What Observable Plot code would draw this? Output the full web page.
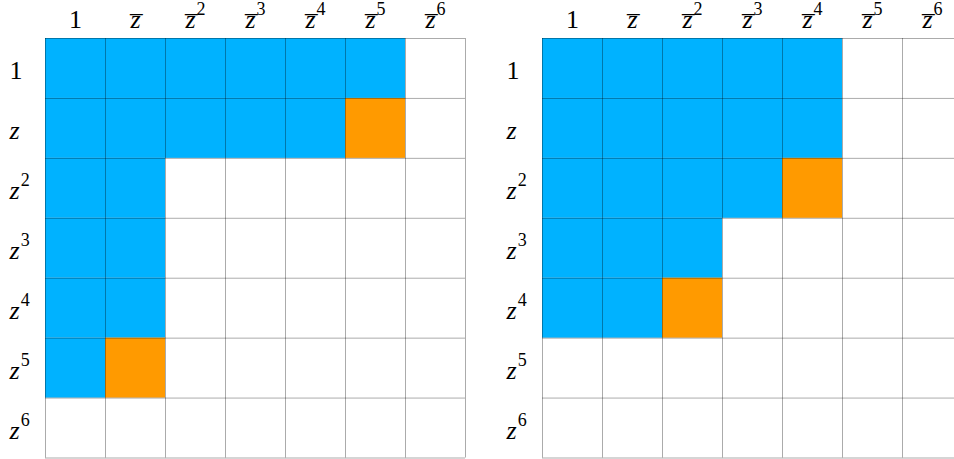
<!DOCTYPE html>
<html>
<head>
<meta charset="utf-8">
<script src="https://cdn.jsdelivr.net/npm/d3@7"></script>
<script src="https://cdn.jsdelivr.net/npm/@observablehq/plot@0.6"></script>
<style>
  html, body { margin: 0; padding: 0; background: #fff; }
  #wrap { width: 954px; height: 459px; overflow: hidden; display: flex; }
  #wrap svg { flex: none; }
</style>
</head>
<body>
<div id="wrap"></div>
<script>
// Column labels (powers of z-bar) and row labels (powers of z)
const colLabels = ["1", "zbar", "zbar^2", "zbar^3", "zbar^4", "zbar^5", "zbar^6"];
const rowLabels = ["1", "z", "z^2", "z^3", "z^4", "z^5", "z^6"];

// Cell states per row: B = blue, O = orange, . = empty
const leftCells = [
  "BBBBBB.",
  "BBBBBO.",
  "BB.....",
  "BB.....",
  "BB.....",
  "BO.....",
  "......."
];
const rightCells = [
  "BBBBB..",
  "BBBBB..",
  "BBBBO..",
  "BBB....",
  "BBO....",
  ".......",
  "......."
];

const stateColors = {B: "#00b2ff", O: "#ff9a00"};
const gridIdx = [0, 1, 2, 3, 4, 5, 6, 7];

function toCells(rows) {
  const out = [];
  rows.forEach((r, i) => [...r].forEach((c, j) => { if (c !== ".") out.push({row: i, col: j, state: c}); }));
  return out;
}

function makePlot(rows, width, marginLeft, marginRight) {
  const cells = toCells(rows);
  const svg = Plot.plot({
    width, height: 459,
    marginLeft, marginRight, marginTop: 38, marginBottom: 1.5,
    x: {domain: [0, 7], axis: null},
    y: {domain: [0, 7], reverse: true, axis: null},
    style: {fontFamily: "'Liberation Serif', serif", fontSize: "26px", color: "#000", background: "#fff"},
    marks: [
      Plot.rect(cells, {x1: "col", x2: d => d.col + 1, y1: "row", y2: d => d.row + 1,
        fill: d => stateColors[d.state]}),
      Plot.ruleX(gridIdx, {x: d => d, y1: 0, y2: 7, stroke: "#000", strokeOpacity: 0.33}),
      Plot.ruleY(gridIdx, {y: d => d, x1: 0, x2: 7, stroke: "#000", strokeOpacity: 0.33}),
      Plot.text(colLabels, {x: (d, i) => i + 0.5, y: 0, text: d => d, dy: -11,
        lineAnchor: "bottom", fontSize: 26, fill: "#000"}),
      Plot.text(rowLabels, {x: 0, y: (d, i) => i + 0.5, text: d => d, dx: -36, dy: 11,
        textAnchor: "start", lineAnchor: "bottom", fontSize: 26, fill: "#000"})
    ]
  });
  // typeset labels like LaTeX: italic z, overline, superscript exponent
  const NS = "http://www.w3.org/2000/svg";
  svg.querySelectorAll("text").forEach(t => {
    const s = t.textContent;
    const m = /^(1|z|zbar)(?:\^(\d))?$/.exec(s);
    if (!m) return;
    while (t.firstChild) t.removeChild(t.firstChild);
    const base = document.createElementNS(NS, "tspan");
    if (m[1] === "1") {
      base.textContent = "1";
    } else {
      base.setAttribute("font-style", "italic");
      base.textContent = m[1] === "zbar" ? "z\u0305" : "z";
    }
    t.appendChild(base);
    if (m[2]) {
      const e = document.createElementNS(NS, "tspan");
      e.setAttribute("font-size", "18px");
      e.setAttribute("dy", "-13");
      e.setAttribute("dx", "1");
      e.textContent = m[2];
      t.appendChild(e);
    }
  });
  return svg;
}

const wrap = document.getElementById("wrap");
wrap.appendChild(makePlot(leftCells, 477, 45, 12));
wrap.appendChild(makePlot(rightCells, 485, 65, 0));
</script>
</body>
</html>
